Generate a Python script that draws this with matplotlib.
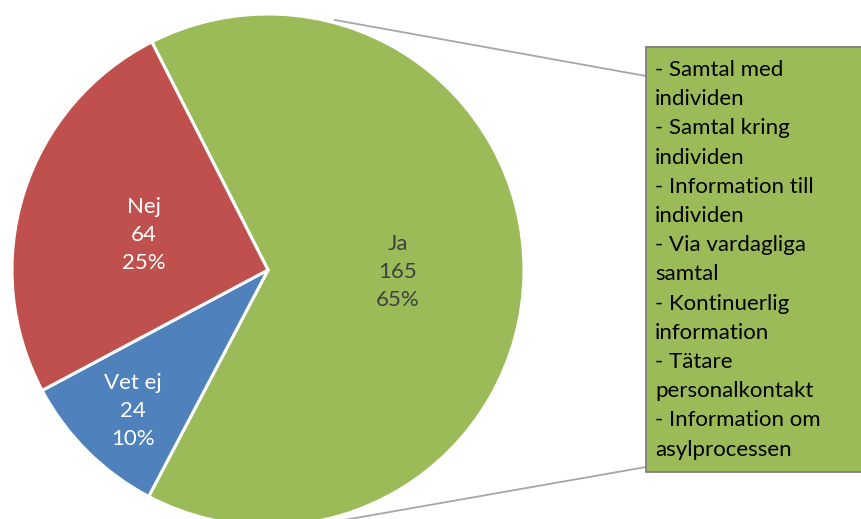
import matplotlib.pyplot as plt
from matplotlib.patches import Rectangle

# data
labels = ['Ja', 'Vet ej', 'Nej']
values = [165, 24, 64]
percents = [65, 10, 25]
colors = ['#9BBB59', '#4F81BD', '#C0504D']
text_colors = ['#404040', 'white', 'white']
box_lines = ['- Samtal med', 'individen', '- Samtal kring', 'individen',
             '- Information till', 'individen', '- Via vardagliga', 'samtal',
             '- Kontinuerlig', 'information', '- Tätare', 'personalkontakt',
             '- Information om', 'asylprocessen']

W, H = 862, 519
plt.rcParams['font.family'] = ['Lato', 'DejaVu Sans']

fig = plt.figure(figsize=(W / 100, H / 100), dpi=100)
ax = fig.add_axes([0, 0, 1, 1])

cx, cy, r = 268, H - 270, 256
ax.pie(values, colors=colors, startangle=117, counterclock=False,
       center=(cx, cy), radius=r,
       wedgeprops=dict(edgecolor='white', linewidth=2.2))

# label positions in pixel coords (x, y of middle line)
label_pos = [(398, 272), (133, 411), (144, 235)]
for lab, v, p, (x, y), c in zip(labels, values, percents, label_pos, text_colors):
    ax.text(x, H - y, f'{lab}\n{v}\n{p}%', ha='center', va='center',
            color=c, fontsize=16, linespacing=1.5)

# connector lines
ax.plot([335, 646], [H - 20, H - 76], color='#A6A6A6', lw=1.3, zorder=1)
ax.plot([330, 646], [H - 522.5, H - 467], color='#A6A6A6', lw=1.3, zorder=1)

# callout box
ax.add_patch(Rectangle((646.5, H - 471.5), 230, 425, facecolor='#9BBB59',
                       edgecolor='#7F7F7F', lw=1.3, zorder=2))
for i, line in enumerate(box_lines):
    ax.text(655, H - (70 + i * 29.2), line, ha='left', va='center',
            color='black', fontsize=16, zorder=3)

ax.set_xlim(0, W)
ax.set_ylim(0, H)
ax.set_aspect('equal')
ax.axis('off')

fig.savefig('out.png', dpi=100)
